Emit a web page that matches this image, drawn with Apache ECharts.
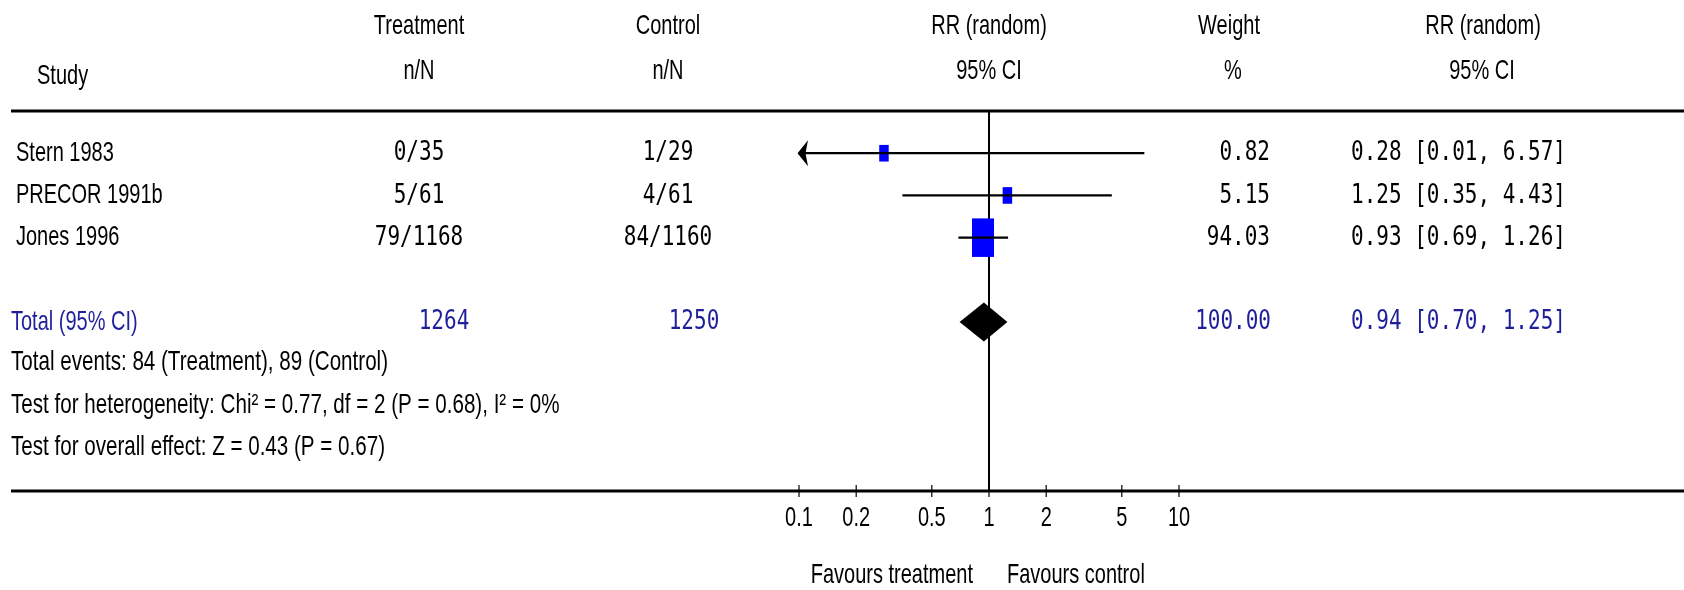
<!DOCTYPE html>
<html>
<head>
<meta charset="utf-8">
<script src="https://cdn.jsdelivr.net/npm/echarts@6/dist/echarts.min.js"></script>
<style>
html,body{margin:0;padding:0;background:#ffffff;}
#chart{width:1684px;height:590px;}
</style>
</head>
<body>
<div id="chart"></div>
<script>
// ---------------- data ----------------
const studies = ['Stern 1983', 'PRECOR 1991b', 'Jones 1996'];
const treatmentNN = ['0/35', '5/61', '79/1168'];
const controlNN = ['1/29', '4/61', '84/1160'];
const rrEstimate = [0.28, 1.25, 0.93];
const rrLower = [0.01, 0.35, 0.69];
const rrUpper = [6.57, 4.43, 1.26];
const weightPct = [0.82, 5.15, 94.03];

const totalLabel = 'Total (95% CI)';
const totalTreatmentN = '1264';
const totalControlN = '1250';
const totalWeight = 100.00;
const totalEstimate = [0.94];
const totalLower = [0.70];
const totalUpper = [1.25];

const footnotes = [
  'Total events: 84 (Treatment), 89 (Control)',
  'Test for heterogeneity: Chi\u00B2 = 0.77, df = 2 (P = 0.68), I\u00B2 = 0%',
  'Test for overall effect: Z = 0.43 (P = 0.67)'
];
const tickValues = [0.1, 0.2, 0.5, 1, 2, 5, 10];
const tickLabels = ['0.1', '0.2', '0.5', '1', '2', '5', '10'];
const favoursLabels = ['Favours treatment', 'Favours control'];
const headerRow1 = ['Treatment', 'Control', 'RR (random)', 'Weight', 'RR (random)'];
const headerRow2 = ['n/N', 'n/N', '95% CI', '%', '95% CI'];
const studyHeader = 'Study';

// ---------------- layout / style ----------------
const X_MIN = 0.1, X_MAX = 10;
const SANS = '"Liberation Sans", Arial, sans-serif';
const MONO = '"DejaVu Sans Mono", "Liberation Mono", monospace';
const SANS_SIZE = 20, SANS_SY = 1.38;
const MONO_SIZE = 21, MONO_SY = 1.3;
const BLUE_TEXT = '#1f1f9a';
const COL = {study: 16, total: 11, treat: 419, ctrl: 668, treatTot: 444, ctrlTot: 694, weightR: 1270, rrL: 1351};

function fmtCI(e, l, u) {
  return e.toFixed(2) + ' [' + l.toFixed(2) + ', ' + u.toFixed(2) + ']';
}
function txt(x, y, text, opt) {
  opt = opt || {};
  const mono = !!opt.mono;
  return {
    type: 'text',
    x: x, y: y,
    scaleX: opt.sx || 1,
    scaleY: mono ? MONO_SY : SANS_SY,
    silent: true,
    style: {
      text: text,
      x: 0, y: 0,
      fill: opt.color || '#000000',
      font: (mono ? MONO_SIZE : SANS_SIZE) + 'px ' + (mono ? MONO : SANS),
      align: opt.align || 'left',
      textAlign: opt.align || 'left',
      verticalAlign: 'middle',
      textVerticalAlign: 'middle'
    }
  };
}

// ---------------- render functions ----------------
function renderStudy(params, api) {
  const i = params.dataIndex;
  const row = api.value(1);
  const est = api.value(0), lo = api.value(2), hi = api.value(3), w = api.value(4);
  const c = api.coord([est, row]);
  const y = c[1];
  const xl = api.coord([Math.max(lo, X_MIN), row])[0];
  const xh = api.coord([Math.min(hi, X_MAX), row])[0];
  const sw = Math.max(9.5, 2.27 * Math.sqrt(w));
  const sh = sw * 1.75;
  const children = [
    {type: 'rect', shape: {x: c[0] - sw / 2, y: y - sh / 2, width: sw, height: sh}, style: {fill: '#0000ff'}},
    {type: 'line', shape: {x1: xl, y1: y, x2: xh, y2: y}, style: {stroke: '#000000', lineWidth: 2.2}}
  ];
  if (lo < X_MIN) {
    children.push({type: 'polygon', shape: {points: [[xl - 1.5, y], [xl + 9, y - 13], [xl + 6.5, y], [xl + 9, y + 13]]}, style: {fill: '#000000'}});
  }
  children.push(txt(COL.study, y, studies[i]));
  children.push(txt(COL.treat, y, treatmentNN[i], {mono: true, align: 'center'}));
  children.push(txt(COL.ctrl, y, controlNN[i], {mono: true, align: 'center'}));
  children.push(txt(COL.weightR, y, weightPct[i].toFixed(2), {mono: true, align: 'right'}));
  children.push(txt(COL.rrL, y, fmtCI(rrEstimate[i], rrLower[i], rrUpper[i]), {mono: true}));
  return {type: 'group', children: children};
}

function renderTotal(params, api) {
  const row = api.value(1);
  const c = api.coord([api.value(0), row]);
  const y = c[1];
  const xl = api.coord([api.value(2), row])[0];
  const xh = api.coord([api.value(3), row])[0];
  const hh = 19.5;
  return {type: 'group', children: [
    {type: 'polygon', shape: {points: [[xl, y], [c[0], y - hh], [xh, y], [c[0], y + hh]]}, style: {fill: '#000000'}},
    txt(COL.total, y, totalLabel, {color: BLUE_TEXT}),
    txt(COL.treatTot, y, totalTreatmentN, {mono: true, align: 'center', color: BLUE_TEXT}),
    txt(COL.ctrlTot, y, totalControlN, {mono: true, align: 'center', color: BLUE_TEXT}),
    txt(COL.weightR + 1, y, totalWeight.toFixed(2), {mono: true, align: 'right', color: BLUE_TEXT}),
    txt(COL.rrL, y, fmtCI(totalEstimate[0], totalLower[0], totalUpper[0]), {mono: true, color: BLUE_TEXT})
  ]};
}

function renderFootnote(params, api) {
  const y = api.coord([1, api.value(1)])[1] - 1.5;
  return txt(COL.total, y, footnotes[params.dataIndex], {sx: 1.03});
}

function renderNoEffect(params, api) {
  const a = api.coord([api.value(0), api.value(1)]);
  const b = api.coord([api.value(0), api.value(2)]);
  return {type: 'line', shape: {x1: a[0], y1: a[1], x2: b[0], y2: b[1]}, style: {stroke: '#000000', lineWidth: 2}};
}

function renderTick(params, api) {
  const c = api.coord([api.value(0), api.value(1)]);
  return {type: 'group', children: [
    {type: 'line', shape: {x1: c[0], y1: c[1] - 6, x2: c[0], y2: c[1] + 6}, style: {stroke: '#000000', lineWidth: 1.2}},
    txt(c[0], c[1] + 27, tickLabels[params.dataIndex], {align: 'center'})
  ]};
}

// ---------------- option ----------------
const studyData = studies.map((s, i) => [rrEstimate[i], i, rrLower[i], rrUpper[i], weightPct[i]]);
const totalData = totalEstimate.map((e, i) => [e, 4, totalLower[i], totalUpper[i]]);
const footData = footnotes.map((f, i) => [1, 5 + i]);
const tickData = tickValues.map(v => [v, 8]);

const headerX = [419, 668, 989, 1229, 1483];
const headerX2 = [419, 668, 989, 1233, 1482];
const graphics = [];
graphics.push({type: 'line', shape: {x1: 11, y1: 111, x2: 1684, y2: 111}, style: {stroke: '#000000', lineWidth: 3}, silent: true});
graphics.push({type: 'line', shape: {x1: 11, y1: 491, x2: 1684, y2: 491}, style: {stroke: '#000000', lineWidth: 3}, silent: true});
graphics.push(txt(37, 76, studyHeader));
headerRow1.forEach((t, i) => graphics.push(txt(headerX[i], 26, t, {align: 'center'})));
headerRow2.forEach((t, i) => graphics.push(txt(headerX2[i], 71, t, {align: 'center'})));
graphics.push(txt(973, 575, favoursLabels[0], {align: 'right'}));
graphics.push(txt(1007, 575, favoursLabels[1], {align: 'left'}));

const option = {
  backgroundColor: '#ffffff',
  animation: false,
  grid: {left: 799, right: 505, top: 111, bottom: 99},
  xAxis: {type: 'log', logBase: 10, min: X_MIN, max: X_MAX, show: false},
  yAxis: {type: 'value', min: -1, max: 8, inverse: true, show: false},
  graphic: {elements: graphics},
  series: [
    {type: 'custom', clip: false, renderItem: renderNoEffect, data: [[1, -1, 8]], encode: {x: 0, y: 1}, z: 1, silent: true},
    {type: 'custom', clip: false, renderItem: renderStudy, data: studyData, encode: {x: 0, y: 1}, z: 2, silent: true},
    {type: 'custom', clip: false, renderItem: renderTotal, data: totalData, encode: {x: 0, y: 1}, z: 3, silent: true},
    {type: 'custom', clip: false, renderItem: renderFootnote, data: footData, encode: {x: 0, y: 1}, z: 3, silent: true},
    {type: 'custom', clip: false, renderItem: renderTick, data: tickData, encode: {x: 0, y: 1}, z: 3, silent: true}
  ]
};
const chart = echarts.init(document.getElementById('chart'), null, {renderer: 'canvas'});
chart.setOption(option);
</script>
</body>
</html>
